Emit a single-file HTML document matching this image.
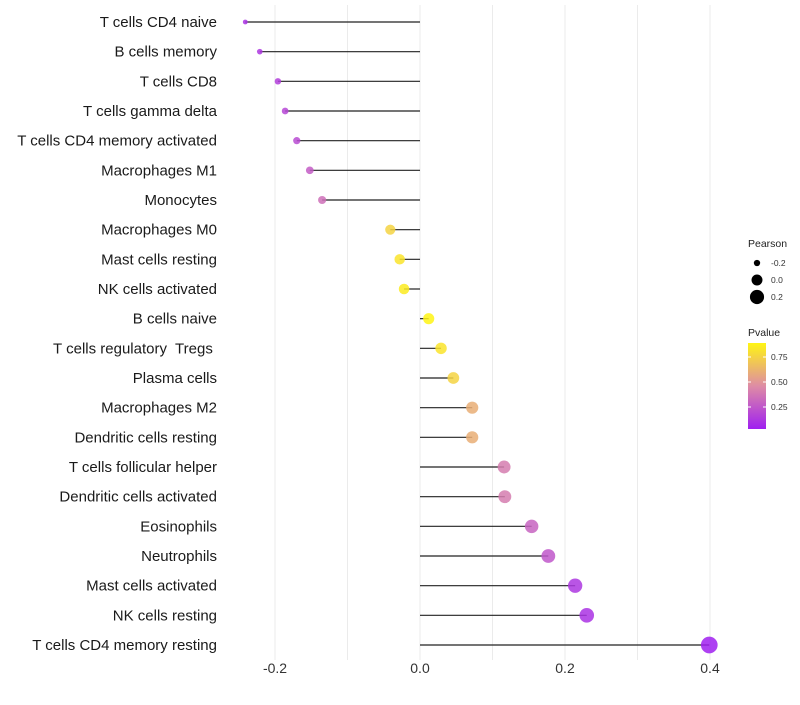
<!DOCTYPE html>
<html><head><meta charset="utf-8"><style>
body{margin:0;background:#fff;font-family:"Liberation Sans",sans-serif;}
text{white-space:pre;}
</style></head><body>
<svg id="chart" width="800" height="700" xmlns="http://www.w3.org/2000/svg"></svg>
<script>
const categories=["T cells CD4 naive","B cells memory","T cells CD8","T cells gamma delta","T cells CD4 memory activated","Macrophages M1","Monocytes","Macrophages M0","Mast cells resting","NK cells activated","B cells naive","T cells regulatory  Tregs ","Plasma cells","Macrophages M2","Dendritic cells resting","T cells follicular helper","Dendritic cells activated","Eosinophils","Neutrophils","Mast cells activated","NK cells resting","T cells CD4 memory resting"];
const pearson=[-0.241,-0.221,-0.196,-0.186,-0.170,-0.152,-0.135,-0.041,-0.028,-0.022,0.012,0.029,0.046,0.072,0.072,0.116,0.117,0.154,0.177,0.214,0.230,0.399];
const pvalues=[0.10,0.12,0.15,0.18,0.20,0.27,0.35,0.75,0.82,0.85,0.89,0.82,0.75,0.60,0.60,0.40,0.40,0.30,0.25,0.12,0.10,0.03];
const xTicks=[-0.2,0.0,0.2,0.4];
const xTickLabels=["-0.2","0.0","0.2","0.4"];
const sizeLegend=[-0.2,0.0,0.2];
const sizeLegendLabels=["-0.2","0.0","0.2"];
const pLegend=[0.25,0.5,0.75];
const pLegendLabels=["0.25","0.50","0.75"];

const NS="http://www.w3.org/2000/svg";
const svg=document.getElementById('chart');
function mk(t,a,p){const e=document.createElementNS(NS,t);for(const k in a)e.setAttribute(k,a[k]);(p||svg).appendChild(e);return e;}
const x=v=>420+v*725;
const y=i=>22+i*(623/21);
const r=v=>Math.sqrt(Math.max(1,6+(v+0.24)*100));
function col(p){const t=Math.max(0,Math.min(1,(p-0.03)/0.86));
 const s=[[160,32,240],[222,140,165],[255,245,20]];
 let a,b,u;if(t<0.5){a=s[0];b=s[1];u=t/0.5;}else{a=s[1];b=s[2];u=(t-0.5)/0.5;}
 return `rgb(${a.map((c,k)=>Math.round(c+(b[k]-c)*u)).join(',')})`;}
// grid
for(let v=-0.2;v<=0.41;v+=0.1){const g=mk('line',{x1:x(v),x2:x(v),y1:5,y2:660,stroke:'#ebebeb','stroke-width':1});

}
categories.forEach((c,i)=>{
 const t=mk('text',{x:217,y:y(i)+5,'text-anchor':'end','font-size':15,fill:'#1a1a1a'});t.textContent=c;
 
 
 const l=mk('line',{x1:x(0),x2:x(pearson[i]),y1:y(i),y2:y(i),stroke:'#222','stroke-width':1.2});
 
 
 const d=mk('circle',{cx:x(pearson[i]),cy:y(i),r:r(pearson[i]),fill:col(pvalues[i]),'fill-opacity':0.85});
 
 
});
xTicks.forEach((v,i)=>{const t=mk('text',{x:x(v),y:673,'text-anchor':'middle','font-size':14,fill:'#333'});t.textContent=xTickLabels[i];
 
 });
// legends
let t=mk('text',{x:748,y:247,'font-size':10.5,fill:'#222'});t.textContent='Pearson';


sizeLegend.forEach((v,i)=>{const cy=263+i*17;
 const c=mk('circle',{cx:757,cy:cy,r:r(v),fill:'#000'});
 
 
 const tt=mk('text',{x:771,y:cy+3,'font-size':8.5,fill:'#333'});tt.textContent=sizeLegendLabels[i];
 
 });
t=mk('text',{x:748,y:336,'font-size':10.5,fill:'#222'});t.textContent='Pvalue';


const defs=mk('defs',{});const gr=mk('linearGradient',{id:'pg',x1:0,y1:1,x2:0,y2:0},defs);
for(let k=0;k<=10;k++){mk('stop',{offset:k/10,'stop-color':col(0.03+0.86*k/10)},gr);}
const bar=mk('rect',{x:748,y:343,width:18,height:86,fill:'url(#pg)'});


pLegend.forEach((v,i)=>{const yy=429-(v-0.03)*100;
 mk('line',{x1:748,x2:751,y1:yy,y2:yy,stroke:'#fff'});mk('line',{x1:763,x2:766,y1:yy,y2:yy,stroke:'#fff'});
 const tt=mk('text',{x:771,y:yy+3,'font-size':8.5,fill:'#333'});tt.textContent=pLegendLabels[i];
 
 });
</script>
</body></html>
